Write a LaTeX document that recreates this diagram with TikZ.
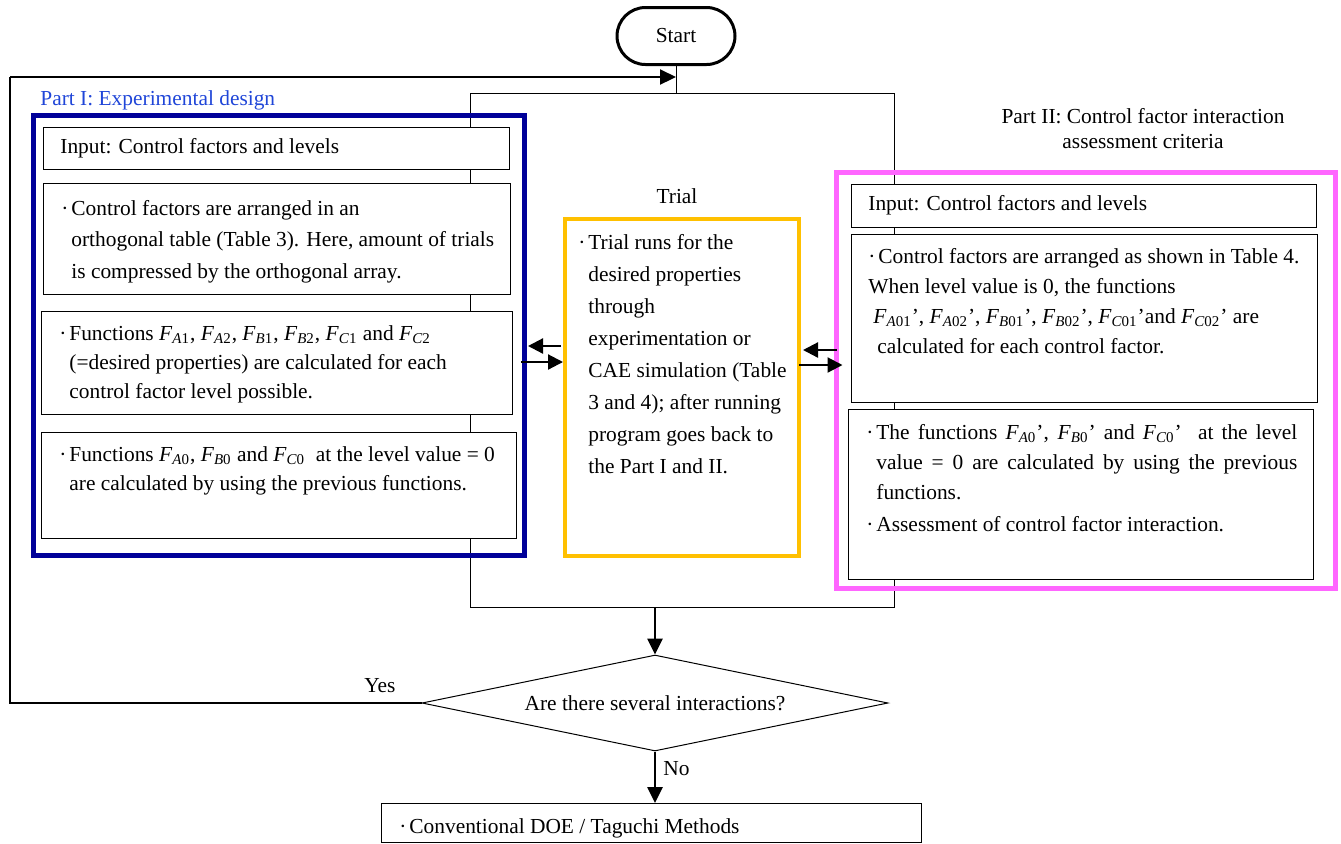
\documentclass[tikz,border=0pt]{standalone}
\usepackage{fontspec}
\setmainfont{Liberation Serif}
\usepackage{tikz}
\usetikzlibrary{%
	shapes.geometric,%
	shapes.misc,%
	arrows.meta%
}
\definecolor{PartOneBlue}{HTML}{000099}
\definecolor{PartOneText}{HTML}{2046D8}
\definecolor{TrialOrange}{HTML}{FFC000}
\definecolor{PartTwoPink}{HTML}{FF66FF}
\newcommand{\Fsub}[2]{\textit{F}\textsubscript{\textit{#1}#2}}
\newcommand{\bul}{\makebox[5pt][l]{\textperiodcentered}}

\tikzset{
	box/.style={draw,line width=0.5pt,fill=white,anchor=north west,inner sep=0pt,outer sep=0pt},
	frame/.style={draw,line width=2.5pt,anchor=north west,inner sep=0pt,outer sep=0pt},
	txt/.style={anchor=north west,align=left,inner sep=0pt,font=\fontsize{10.7}{14.5}\selectfont},
	lbl/.style={inner sep=0pt,font=\fontsize{10.7}{12.5}\selectfont},
	flow/.style={line width=1.3pt,-{Triangle[length=8pt,width=7.5pt]}},
	small flow/.style={line width=1.1pt,-{Triangle[length=7.5pt,width=7.5pt]}},
	thin line/.style={line width=0.5pt}
}

\begin{document}
\begin{tikzpicture}[x=0.5pt,y=-0.5pt]

\useasboundingbox (0,0) rectangle (1341,843);

% loop round both parts
\coordinate (loopNW) at (470,93);
\coordinate (loopSE) at (894,607);
\draw [thin line] (loopNW) rectangle (loopSE);

\node (start) [draw,rounded rectangle,line width=1.5pt,minimum width=59pt,minimum height=28.5pt,fill=white,lbl] at (676,36) {Start};
\draw [thin line] (start.south) -- (start.south |- loopNW);

% Part I
\node (partI) [frame,draw=PartOneBlue,minimum width=245.5pt,minimum height=220pt] at (33,115) {};
\node (partIlabel) [lbl,anchor=west,text=PartOneText] at (40,100) {Part I: Experimental design};

\node (inI) [box,minimum width=233pt,minimum height=21pt] at (43,127) {};
\node [txt] at (60,138) {Input: Control factors and levels};

\node (arrI) [box,minimum width=233.5pt,minimum height=55.5pt] at (43,183) {};
\node [txt,font=\fontsize{10.7}{15.75}\selectfont] at (71,200) {\llap{\bul}Control factors are arranged in an\\
orthogonal table (Table 3). Here, amount of trials\\
is compressed by the orthogonal array.};

\node (funI) [box,minimum width=235.5pt,minimum height=51.5pt] at (41,311) {};
\node [txt] at (69,325) {\llap{\bul}Functions \Fsub{A}{1}, \Fsub{A}{2}, \Fsub{B}{1}, \Fsub{B}{2}, \Fsub{C}{1} and \Fsub{C}{2}\\
(=desired properties) are calculated for each\\
control factor level possible.};

\node (zeroI) [box,minimum width=237.5pt,minimum height=53pt] at (41,432) {};
\node [txt] at (69,446) {\llap{\bul}Functions \Fsub{A}{0}, \Fsub{B}{0} and \Fsub{C}{0}\ \ at the level value = 0\\
are calculated by using the previous functions.};

% Trial
\node (trial) [frame,line width=2pt,draw=TrialOrange,minimum width=117pt,minimum height=168.5pt] at (565,219) {};
\node (triallabel) [lbl] at (677,196) {Trial};
\node [txt,font=\fontsize{10.7}{16}\selectfont] at (588,234) {\llap{\bul}Trial runs for the\\
desired properties\\
through\\
experimentation or\\
CAE simulation (Table\\
3 and 4); after running\\
program goes back to\\
the Part I and II.};

% Part II
\node (partII) [frame,draw=PartTwoPink,minimum width=249.5pt,minimum height=208pt] at (836.5,172.5) {};
\node (partIIlabel) [lbl,align=center] at (1143,129) {Part II: Control factor interaction\\assessment criteria};

\node (inII) [box,minimum width=232.5pt,minimum height=21.5pt] at (851,184) {};
\node [txt] at (868,195) {Input: Control factors and levels};

\node (arrII) [box,minimum width=233pt,minimum height=84pt] at (851,234) {};
\node [txt,font=\fontsize{10.7}{15}\selectfont] at (868,248) {\bul Control factors are arranged as shown in Table 4.\\
When level value is 0, the functions\\
\hspace*{2.5pt}\Fsub{A}{01}’, \Fsub{A}{02}’, \Fsub{B}{01}’, \Fsub{B}{02}’, \Fsub{C}{01}’and \Fsub{C}{02}’ are\\
\hspace*{4.5pt}calculated for each control factor.};

\node (zeroII) [box,minimum width=232.5pt,minimum height=85pt] at (848,409) {};
\node [txt,font=\fontsize{10.7}{15}\selectfont] at (876,424) {\llap{\bul}\makebox[210.5pt][s]{The functions \Fsub{A}{0}’, \Fsub{B}{0}’ and \Fsub{C}{0}’\ \ at the level}\\
\makebox[210.5pt][s]{value = 0 are calculated by using the previous}\\
functions.\\[1pt]
\llap{\bul}Assessment of control factor interaction.};

% arrows between the parts
\draw [small flow] ([xshift=-2pt]trial.west |- 0,346) -- ([xshift=2pt]partI.east |- 0,346);
\draw [small flow] ([xshift=-1.5pt]partI.east |- 0,362) -- ([xshift=-1pt]trial.west |- 0,362);
\draw [small flow] (partII.west |- 0,350) -- ([xshift=2pt]trial.east |- 0,350);
\draw [small flow] (trial.east |- 0,365) -- ([xshift=3pt]partII.west |- 0,365);

% decision
\node (dec) [diamond,draw,line width=0.5pt,aspect=4.8,minimum width=233pt,minimum height=48pt,inner sep=0pt,fill=white,lbl] at (655,703) {Are there several interactions?};
\draw [flow] (dec.north |- loopSE) -- (dec.north);

\node (doe) [box,minimum width=270pt,minimum height=19.5pt] at (381,803) {};
\node [txt] at (399,818) {\bul Conventional DOE / Taguchi Methods};
\draw [flow] (dec.south) -- (doe.north -| dec.south);
\node (no) [lbl,anchor=west] at (663,769) {No};

\coordinate (backTL) at (10,77);
\draw [line width=0.8pt] (dec.west) -| (backTL);
\draw [flow,line width=1.1pt] (backTL) -- (backTL -| start.south);
\node (yes) [lbl] at (380,686) {Yes};

\end{tikzpicture}
\end{document}
